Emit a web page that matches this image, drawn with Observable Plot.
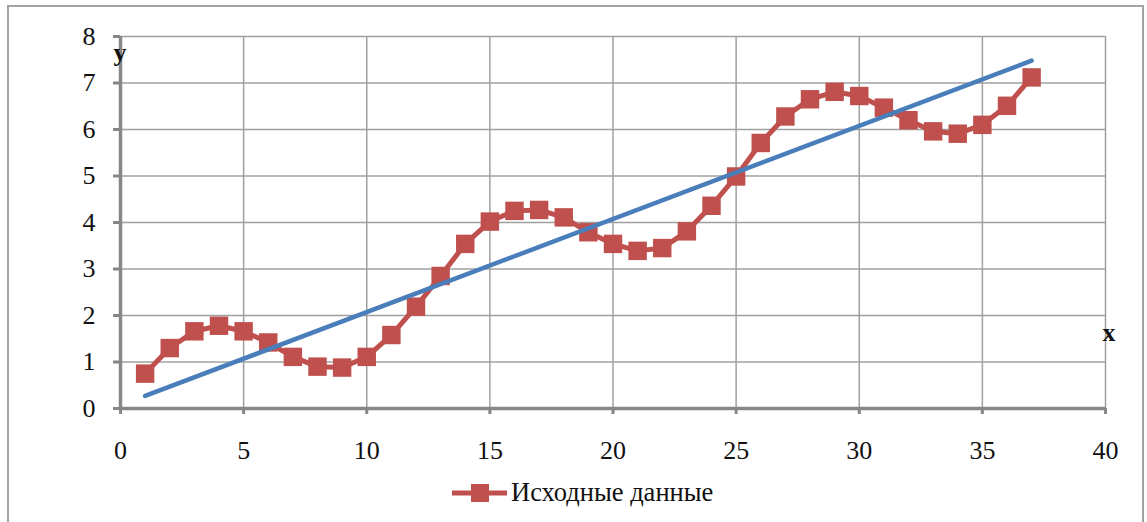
<!DOCTYPE html>
<html>
<head>
<meta charset="utf-8">
<script src="https://cdn.jsdelivr.net/npm/d3@7"></script>
<script src="https://cdn.jsdelivr.net/npm/@observablehq/plot@0.6"></script>
<style>
  html, body { margin: 0; padding: 0; background: #fff; }
  body { width: 1147px; height: 522px; position: relative; overflow: hidden; font-family: "Liberation Serif", "Times New Roman", serif; }
  #frame { position: absolute; left: 7px; top: 5px; width: 1137px; height: 560px; box-sizing: border-box; border: 2px solid #a3a3a3; }
  #chart { position: absolute; left: 0; top: 0; }
  #legend { position: absolute; left: 452px; top: 477px; display: flex; align-items: center; gap: 3px; font-size: 26.5px; color: #111; }
</style>
</head>
<body>
<div id="frame"></div>
<div id="chart"></div>
<div id="legend"></div>
<script>
// Source series: x = 1..37, y = measured values
const xs = d3.range(1, 38);
const ys = [
  0.75, 1.30, 1.66, 1.78, 1.66, 1.42, 1.11, 0.90, 0.88, 1.11,
  1.58, 2.19, 2.85, 3.54, 4.02, 4.25, 4.27, 4.11, 3.79, 3.54,
  3.39, 3.45, 3.81, 4.36, 4.99, 5.71, 6.28, 6.65, 6.81, 6.72,
  6.47, 6.20, 5.96, 5.91, 6.10, 6.51, 7.12
];
// Linear trend: end points at x = 1 and x = 37
const trendX = [1, 37];
const trendY = [0.27, 7.48];
const xTicks = [0, 5, 10, 15, 20, 25, 30, 35, 40];
const yTicks = [0, 1, 2, 3, 4, 5, 6, 7, 8];
const seriesName = "Исходные данные";

const data = xs.map((x, i) => ({x, y: ys[i]}));
const trend = trendX.map((x, i) => ({x, y: trendY[i]}));

const red = "#C0504D";
const blue = "#4A7EBB";
const axisGray = "#878787";
const gridGray = "#a0a0a0";
const serif = '"Liberation Serif", "Times New Roman", serif';

const chart = Plot.plot({
  width: 1147,
  height: 470,
  marginLeft: 120,
  marginRight: 42,
  marginTop: 36,
  marginBottom: 62,
  style: {fontFamily: serif, fontSize: "26px", color: "#111", background: "transparent", overflow: "visible"},
  x: {domain: [0, 40]},
  y: {domain: [0, 8]},
  marks: [
    Plot.gridX(xTicks, {stroke: gridGray, strokeOpacity: 1, strokeWidth: 1.5}),
    Plot.gridY(yTicks, {stroke: gridGray, strokeOpacity: 1, strokeWidth: 1.5}),
    Plot.axisX(xTicks, {tickSize: 6, tickPadding: 26, stroke: axisGray, strokeWidth: 3, fill: "#111", label: null}),
    Plot.axisY(yTicks, {tickSize: 7, tickPadding: 18, stroke: axisGray, strokeWidth: 3, fill: "#111", label: null}),
    Plot.ruleY([0], {stroke: axisGray, strokeWidth: 3.5}),
    Plot.ruleX([0], {stroke: axisGray, strokeWidth: 3.5}),
    Plot.line(data, {x: "x", y: "y", stroke: red, strokeWidth: 5}),
    Plot.dot(data, {x: "x", y: "y", symbol: "square", r: 10.4, fill: red, stroke: "none"}),
    Plot.line(trend, {x: "x", y: "y", stroke: blue, strokeWidth: 4.5, strokeLinecap: "round"}),
    Plot.text(["y"], {frameAnchor: "top-left", dx: -7, dy: 6, fontWeight: "bold", fontSize: 26, fill: "#111"}),
    Plot.text(["x"], {frameAnchor: "bottom-right", dx: 10, dy: -68, fontWeight: "bold", fontSize: 26, fill: "#111"})
  ]
});
document.getElementById("chart").appendChild(chart);

// Legend: line with square marker, then series name
const legend = d3.select("#legend");
const sw = legend.append("svg").attr("width", 56).attr("height", 30);
sw.append("line").attr("x1", 0).attr("x2", 55).attr("y1", 15).attr("y2", 15)
  .attr("stroke", red).attr("stroke-width", 5);
sw.append("rect").attr("x", 19).attr("y", 6).attr("width", 18).attr("height", 18).attr("fill", red);
legend.append("span").text(seriesName);
</script>
</body>
</html>
